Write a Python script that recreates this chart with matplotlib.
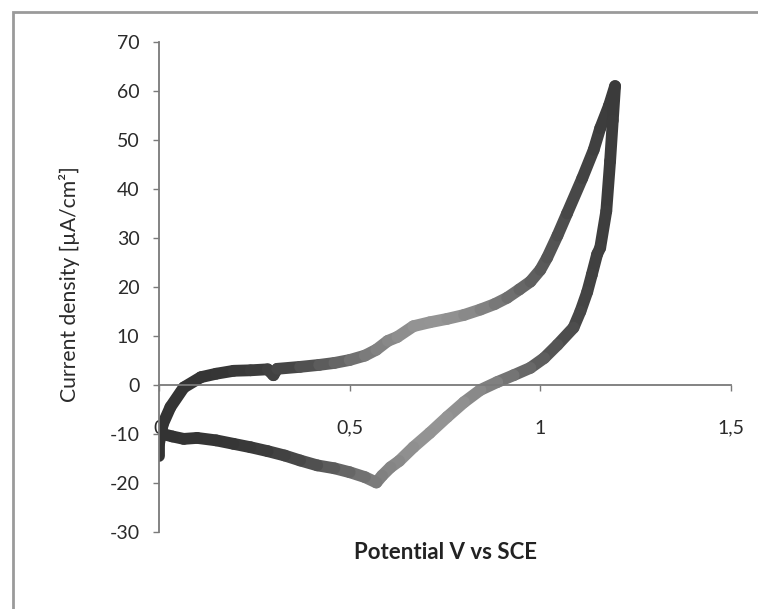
import numpy as np
import matplotlib
import matplotlib.pyplot as plt
from matplotlib.collections import LineCollection
from matplotlib.patches import Rectangle

matplotlib.use('Agg')

# anodic (forward) sweep, potential V vs SCE and current density uA/cm2
fwd_v = [0.00, 0.01, 0.03, 0.065, 0.11, 0.15, 0.196, 0.24, 0.285, 0.30, 0.31,
         0.37, 0.42, 0.46, 0.50, 0.54, 0.57, 0.60, 0.625, 0.667, 0.71, 0.756,
         0.80, 0.843, 0.88, 0.913, 0.945, 0.974, 1.00, 1.018, 1.045, 1.07,
         1.11, 1.14, 1.157, 1.18, 1.196]
fwd_j = [-12, -8, -4.5, -0.5, 1.6, 2.3, 2.9, 3.0, 3.2, 2.0, 3.3,
         3.7, 4.1, 4.5, 5.1, 6.0, 7.2, 9.0, 9.8, 12.0, 12.8, 13.5,
         14.3, 15.4, 16.5, 17.8, 19.5, 21.1, 23.5, 26.0, 30.5, 35.0,
         42.2, 48.0, 52.4, 57.0, 61.0]

# cathodic (return) sweep
rev_v = [1.196, 1.19, 1.183, 1.173, 1.157, 1.149, 1.135, 1.123, 1.105, 1.087,
         1.045, 1.01, 0.974, 0.93, 0.887, 0.843, 0.80, 0.756, 0.71, 0.667,
         0.63, 0.607, 0.585, 0.57, 0.54, 0.50, 0.46, 0.415, 0.37, 0.33,
         0.285, 0.24, 0.195, 0.15, 0.10, 0.065, 0.035, 0.01, 0.0, 0.0]
rev_j = [61, 54, 45.7, 35.5, 28.0, 26.7, 22.5, 19.0, 15.0, 11.7,
         8.2, 5.5, 3.5, 2.0, 0.6, -1.0, -3.5, -6.5, -9.8, -12.7,
         -15.5, -16.8, -18.5, -19.9, -18.8, -17.8, -17.0, -16.4, -15.4, -14.4,
         -13.5, -12.7, -12.0, -11.3, -10.8, -11.0, -10.5, -10.0, -11.0, -14.5]

x_ticks = [0, 0.5, 1, 1.5]
x_tick_labels = ['0', '0,5', '1', '1,5']
y_ticks = [-30, -20, -10, 0, 10, 20, 30, 40, 50, 60, 70]

plt.rcParams['font.family'] = ['Lato', 'DejaVu Sans']
plt.rcParams['axes.unicode_minus'] = False

fig = plt.figure(figsize=(7.58, 6.09), dpi=100)
ax = fig.add_axes([159 / 758, 1 - 532 / 609, 572 / 758, 490 / 609])

# outer chart frame (right and bottom edges fall outside the scan)
fig.patches.append(Rectangle((13 / 758, -0.1), 1.2, 1 - 12 / 609 + 0.1,
                             transform=fig.transFigure, fill=False,
                             edgecolor='#9a9a9a', lw=2))

v = np.array(fwd_v + rev_v)
j = np.array(fwd_j + rev_j)
pts = np.column_stack([v, j]).reshape(-1, 1, 2)
segs = np.concatenate([pts[:-1], pts[1:]], axis=1)
mid = (v[:-1] + v[1:]) / 2
shade = 0.2 + 0.38 * np.exp(-((mid - 0.72) / 0.3) ** 2)
lc = LineCollection(segs, colors=[(s, s, s) for s in shade], linewidths=8.5,
                    capstyle='round', joinstyle='round')
ax.add_collection(lc)

ax.set_xlim(0, 1.5)
ax.set_ylim(-30, 70)
ax.set_xticks(x_ticks)
ax.set_xticklabels(x_tick_labels)
ax.set_yticks(y_ticks)

ax.spines['top'].set_visible(False)
ax.spines['right'].set_visible(False)
ax.spines['bottom'].set_position(('data', 0))
for s in ('left', 'bottom'):
    ax.spines[s].set_color('#7a7a7a')
    ax.spines[s].set_linewidth(1.3)

ax.tick_params(axis='y', direction='out', length=4, width=1, color='#7a7a7a',
               labelsize=14, labelcolor='#2a2a2a', pad=10)
ax.tick_params(axis='x', direction='out', length=4, width=1, color='#7a7a7a',
               labelsize=14, labelcolor='#2a2a2a', pad=21)

ax.set_xlabel('Potential V vs SCE', fontsize=16, fontweight='bold', color='#222222')
ax.xaxis.set_label_coords(0.5, -0.02)
ax.set_ylabel('Current density [\u00b5A/cm\u00b2]', fontsize=15.2, color='#2a2a2a')
ax.yaxis.set_label_coords(-0.138, 0.506)

fig.savefig('out.png', dpi=100)
